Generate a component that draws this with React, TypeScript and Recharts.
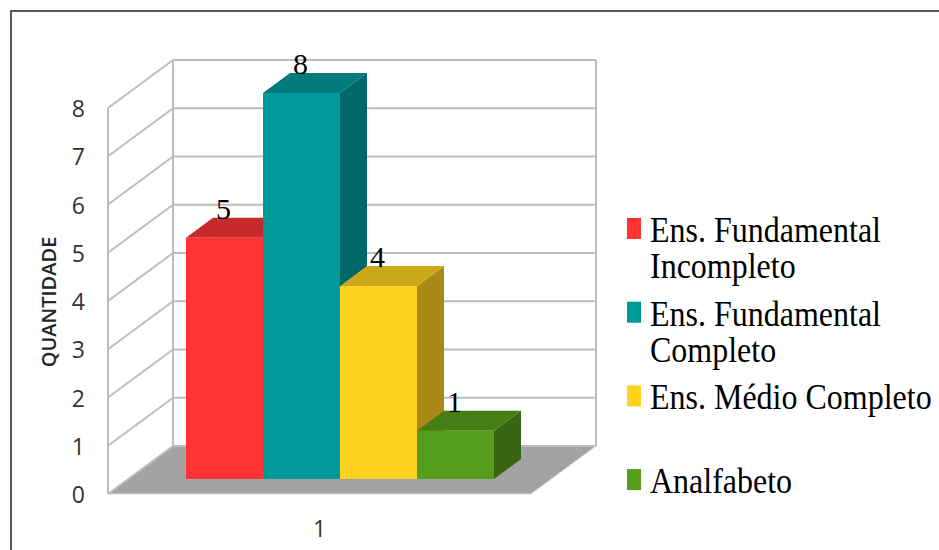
import React from 'react';
import { BarChart, Bar, XAxis, YAxis, CartesianGrid, Legend, LabelList } from 'recharts';

// Category and series values
const categories = ['1'];
const seriesNames = [
  'Ens. Fundamental Incompleto',
  'Ens. Fundamental Completo',
  'Ens. Médio Completo',
  'Analfabeto',
];
const fundamentalIncompleto = [5];
const fundamentalCompleto = [8];
const medioCompleto = [4];
const analfabeto = [1];
const yTicks = [0, 1, 2, 3, 4, 5, 6, 7, 8];

const seriesKeys = ['s0', 's1', 's2', 's3'];
const seriesValues = [fundamentalIncompleto, fundamentalCompleto, medioCompleto, analfabeto];

// Face colours for each 3D column: front, top, side
const faces = [
  { front: '#ff3333', top: '#c62a2a', side: '#a82222' },
  { front: '#009999', top: '#007a7a', side: '#006868' },
  { front: '#ffd320', top: '#cca91a', side: '#a88a14' },
  { front: '#579d1c', top: '#467e16', side: '#386512' },
];

const data = categories.map((category, i) => {
  const row: Record<string, string | number> = { category };
  seriesKeys.forEach((k, s) => {
    row[k] = seriesValues[s][i];
  });
  return row;
});

const W = 939;
const H = 550;

// Oblique projection of the chart box: full depth, bar placement and bar depth
const DEPTH = { dx: 65, dy: -48 };
const BAR_SHIFT = { dx: 20, dy: -15 };
const BAR_DEPTH = { dx: 27, dy: -20 };

const GRID = '#bdbdbd';
const FLOOR = '#a3a3a3';
const SANS = "'Open Sans', 'Noto Sans', sans-serif";
const SERIF = "'Liberation Serif', 'Times New Roman', serif";

const make3DBar = (f: { front: string; top: string; side: string }) => (props: any) => {
  const { x, y, width, height } = props;
  if (width == null || height == null || height <= 0) return <g />;
  const fx = x + BAR_SHIFT.dx;
  const fy = y + BAR_SHIFT.dy;
  const { dx, dy } = BAR_DEPTH;
  return (
    <g>
      <polygon
        points={`${fx + width},${fy} ${fx + width + dx},${fy + dy} ${fx + width + dx},${fy + dy + height} ${fx + width},${fy + height}`}
        fill={f.side}
      />
      <polygon
        points={`${fx},${fy} ${fx + dx},${fy + dy} ${fx + width + dx},${fy + dy} ${fx + width},${fy}`}
        fill={f.top}
      />
      <rect x={fx} y={fy} width={width} height={height} fill={f.front} />
    </g>
  );
};

const renderValueLabel = (props: any) => {
  const vb = props.viewBox || {};
  const x = props.x ?? vb.x;
  const y = props.y ?? vb.y;
  const width = props.width ?? vb.width;
  const cx = x + BAR_SHIFT.dx + width / 2 - 1;
  const baseY = y + BAR_SHIFT.dy + BAR_DEPTH.dy + 1;
  return (
    <text x={cx} y={baseY} textAnchor="middle" fontFamily={SERIF} fontSize={30} fill="#000">
      {props.value}
    </text>
  );
};

// Walls, floor and gridlines of the 3D box, drawn from the value axis grid lines
const renderGridLine = (props: any) => {
  const { x1, y1, x2, index } = props;
  const top = props.y;
  const bottom = props.y + props.height;
  const bx1 = x1 + DEPTH.dx;
  const bx2 = x2 + DEPTH.dx;
  const by = y1 + DEPTH.dy;
  const isBottom = Math.abs(y1 - bottom) < 0.5;
  const isTop = Math.abs(y1 - top) < 0.5;
  return (
    <g key={`grid-${index}`}>
      {isBottom && (
        <polygon
          points={`${x1},${y1} ${bx1},${by} ${bx2},${by} ${x2},${y1}`}
          fill={FLOOR}
          stroke="#d9d9d9"
          strokeWidth={1}
        />
      )}
      <line x1={x1} y1={y1} x2={bx1} y2={by} stroke={GRID} strokeWidth={2} />
      <line x1={bx1} y1={by} x2={bx2} y2={by} stroke={GRID} strokeWidth={2} />
      {isTop && (
        <g>
          <line x1={x1} y1={top} x2={x1} y2={bottom} stroke={GRID} strokeWidth={2} />
          <line x1={bx1} y1={top + DEPTH.dy} x2={bx1} y2={bottom + DEPTH.dy} stroke={GRID} strokeWidth={2} />
          <line x1={bx2} y1={top + DEPTH.dy} x2={bx2} y2={bottom + DEPTH.dy} stroke={GRID} strokeWidth={2} />
        </g>
      )}
    </g>
  );
};

const renderAxisTitle = (props: any) => {
  const vb = props.viewBox || {};
  const cx = vb.x;
  const cy = vb.y + vb.height / 2 + 1;
  return (
    <text
      x={cx}
      y={cy}
      transform={`rotate(-90 ${cx} ${cy})`}
      textAnchor="middle"
      dominantBaseline="central"
      fontFamily={SANS}
      fontWeight={600}
      fontSize={20}
      fill="#262626"
    >
      QUANTIDADE
    </text>
  );
};

const YTick = (props: any) => {
  const { x, y, payload } = props;
  return (
    <text x={x} y={y} textAnchor="end" dominantBaseline="central" fontFamily={SANS} fontSize={23} fill="#333">
      {payload.value}
    </text>
  );
};

const XTick = (props: any) => {
  const { x, y, payload } = props;
  return (
    <text x={x} y={y} textAnchor="middle" dominantBaseline="central" fontFamily={SANS} fontSize={23} fill="#333">
      {payload.value}
    </text>
  );
};

// Greedy word wrap for legend labels
const wrapLabel = (label: string, maxChars: number) => {
  const words = label.split(' ');
  const lines: string[] = [];
  let cur = '';
  words.forEach((w) => {
    const next = cur ? `${cur} ${w}` : w;
    if (next.length > maxChars && cur) {
      lines.push(cur);
      cur = w;
    } else {
      cur = next;
    }
  });
  if (cur) lines.push(cur);
  return lines;
};

const LEGEND_BOX = { left: 600, top: 190, width: 339, height: 340 };

const renderLegend = (props: any) => {
  const payload = [...(props.payload || [])].sort(
    (a: any, b: any) => seriesNames.indexOf(a.value) - seriesNames.indexOf(b.value),
  );
  return (
    <svg width={LEGEND_BOX.width} height={LEGEND_BOX.height} style={{ display: 'block' }}>
      {payload.map((item: any, i: number) => {
        const base = 52 + i * 83.7;
        const lines = wrapLabel(String(item.value), 19);
        return (
          <g key={`legend-${i}`}>
            <rect x={27} y={base - 24} width={14} height={21} fill={item.color} />
            {lines.map((ln, j) => (
              <text
                key={`ln-${j}`}
                transform={`translate(50 ${base + j * 36}) scale(1 1.1)`}
                fontFamily={SERIF}
                fontSize={32}
                fill="#000"
              >
                {ln}
              </text>
            ))}
          </g>
        );
      })}
    </svg>
  );
};

export default function App() {
  return (
    <div style={{ position: 'absolute', left: 0, top: 0, width: W, height: H, background: '#fff', overflow: 'hidden' }}>
      <div
        style={{
          position: 'absolute',
          left: 10,
          top: 10,
          width: W,
          height: H,
          borderTop: '2px solid #5a5a5a',
          borderLeft: '2px solid #5a5a5a',
          boxSizing: 'border-box',
        }}
      />
      <div style={{ position: 'absolute', left: 0, top: 0 }}>
        <BarChart
          width={W}
          height={H}
          data={data}
          margin={{ top: 108, right: 408, bottom: 16, left: 48 }}
          barGap={0}
          barCategoryGap={58}
        >
          <CartesianGrid vertical={false} horizontal={renderGridLine} />
          <XAxis
            dataKey="category"
            axisLine={false}
            tickLine={false}
            tickSize={0}
            tickMargin={34}
            height={40}
            tick={<XTick />}
          />
          <YAxis
            domain={[0, 8]}
            ticks={yTicks}
            interval={0}
            axisLine={false}
            tickLine={false}
            tickSize={0}
            tickMargin={23}
            width={60}
            tick={<YTick />}
            label={{ value: 'QUANTIDADE', content: renderAxisTitle }}
          />
          <Legend
            layout="vertical"
            align="center"
            verticalAlign="middle"
            width={LEGEND_BOX.width}
            height={LEGEND_BOX.height}
            wrapperStyle={{ left: LEGEND_BOX.left, top: LEGEND_BOX.top, width: LEGEND_BOX.width, height: LEGEND_BOX.height }}
            content={renderLegend}
          />
          {seriesKeys.map((k, s) => (
            <Bar
              key={k}
              dataKey={k}
              name={seriesNames[s]}
              fill={faces[s].front}
              shape={make3DBar(faces[s])}
              isAnimationActive={false}
            >
              <LabelList dataKey={k} content={renderValueLabel} />
            </Bar>
          ))}
        </BarChart>
      </div>
    </div>
  );
}
